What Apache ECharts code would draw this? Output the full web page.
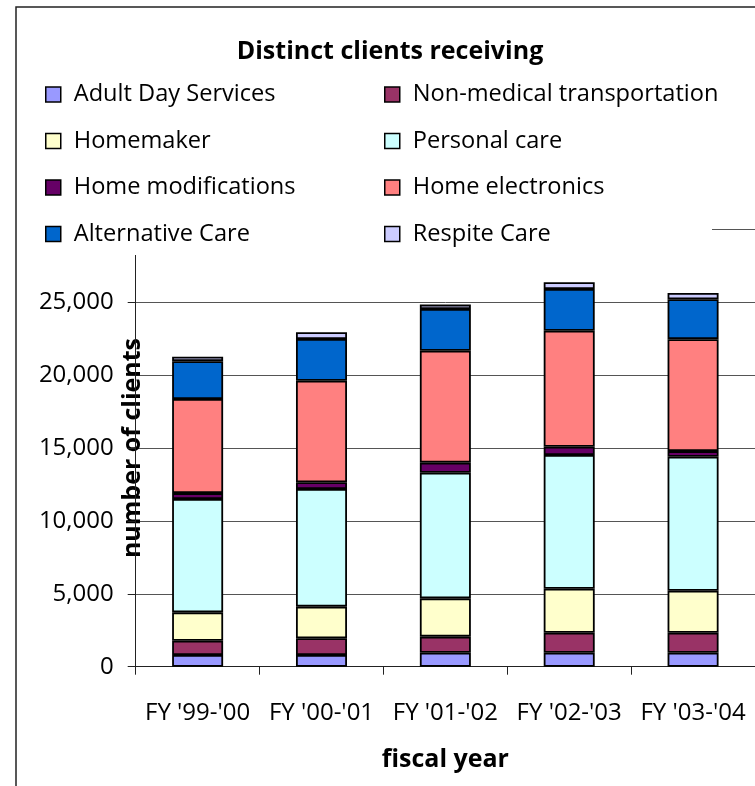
<!DOCTYPE html>
<html>
<head>
<meta charset="utf-8">
<script src="https://cdn.jsdelivr.net/npm/echarts@6/dist/echarts.min.js"></script>
<style>
html,body{margin:0;padding:0;background:#fff;}
#chart{width:755px;height:786px;}
</style>
</head>
<body>
<div id="chart"></div>
<script>
var categories = ["FY '99-'00", "FY '00-'01", "FY '01-'02", "FY '02-'03", "FY '03-'04"];
var adultDayServices   = [800, 800, 960, 960, 960];
var nonMedicalTransp   = [980, 1150, 1100, 1370, 1370];
var homemaker          = [1950, 2170, 2630, 3020, 2880];
var personalCare       = [7770, 8070, 8620, 9170, 9190];
var homeModifications  = [410, 460, 690, 570, 390];
var homeElectronics    = [6450, 6970, 7680, 7960, 7680];
var alternativeCare    = [2600, 2860, 2860, 2860, 2740];
var respiteCare        = [300, 460, 300, 460, 430];
var yTicks = [0, 5000, 10000, 15000, 20000, 25000, 30000];

var seriesDefs = [
  {name: 'Adult Day Services', data: adultDayServices, color: '#9999FF'},
  {name: 'Non-medical transportation', data: nonMedicalTransp, color: '#993366'},
  {name: 'Homemaker', data: homemaker, color: '#FFFFCC'},
  {name: 'Personal care', data: personalCare, color: '#CCFFFF'},
  {name: 'Home modifications', data: homeModifications, color: '#660066'},
  {name: 'Home electronics', data: homeElectronics, color: '#FF8080'},
  {name: 'Alternative Care', data: alternativeCare, color: '#0066CC'},
  {name: 'Respite Care', data: respiteCare, color: '#CCCCFF'}
];

var FONT = 'Open Sans';
var chart = echarts.init(document.getElementById('chart'), null, {renderer: 'canvas'});

var legendCommon = {
  orient: 'vertical',
  padding: 0,
  itemWidth: 15,
  itemHeight: 15,
  itemGap: 20.5,
  icon: 'rect',
  z: 60,
  itemStyle: {borderColor: '#000', borderWidth: 1.5},
  textStyle: {fontFamily: FONT, fontSize: 23.6, color: '#000', lineHeight: 26, padding: [0, 0, 0, 8]}
};

var option = {
  backgroundColor: '#fff',
  animation: false,
  title: {
    text: 'Distinct clients receiving',
    left: 390,
    textAlign: 'center',
    top: 37,
    padding: 0,
    z: 60,
    textStyle: {fontFamily: FONT, fontSize: 25, fontWeight: 'bold', color: '#000', lineHeight: 30}
  },
  legend: [
    Object.assign({}, legendCommon, {
      left: 45, top: 81.5,
      data: ['Adult Day Services', 'Homemaker', 'Home modifications', 'Alternative Care']
    }),
    Object.assign({}, legendCommon, {
      left: 384, top: 81.5,
      data: ['Non-medical transportation', 'Personal care', 'Home electronics', 'Respite Care']
    })
  ],
  graphic: [
    {type: 'rect', z: 50, shape: {x: 20, y: 10, width: 692, height: 245}, style: {fill: '#fff'}, silent: true},
    {type: 'polyline', z: 70, shape: {points: [[16, 800], [16, 7], [800, 7]]}, style: {stroke: '#222', lineWidth: 1.5, fill: null}, silent: true}
  ],
  grid: {left: 135.7, top: 229.4, width: 624, height: 437.3, containLabel: false},
  xAxis: {
    type: 'category',
    data: categories,
    name: 'fiscal year',
    nameLocation: 'middle',
    nameGap: 81,
    nameMoveOverlap: false,
    nameTextStyle: {fontFamily: FONT, fontSize: 25, fontWeight: 'bold', color: '#000'},
    axisLine: {lineStyle: {color: '#222', width: 1}},
    axisTick: {show: true, length: 8, interval: 0, lineStyle: {color: '#222'}},
    axisLabel: {fontFamily: FONT, fontSize: 24, color: '#000', margin: 34, interval: 0, hideOverlap: false}
  },
  yAxis: {
    type: 'value',
    min: yTicks[0],
    max: yTicks[yTicks.length - 1],
    interval: yTicks[1] - yTicks[0],
    name: 'number of clients',
    nameLocation: 'middle',
    nameGap: -10,
    nameMoveOverlap: false,
    nameRotate: 90,
    nameTextStyle: {fontFamily: FONT, fontSize: 25, fontWeight: 'bold', color: '#000'},
    axisLine: {show: true, lineStyle: {color: '#222', width: 1}},
    axisTick: {show: true, length: 8, lineStyle: {color: '#222'}},
    axisLabel: {
      fontFamily: FONT, fontSize: 24, color: '#000', margin: 22,
      formatter: function (v) { return v.toLocaleString('en-US'); }
    },
    splitLine: {show: true, lineStyle: {color: '#555', width: 1}}
  },
  series: seriesDefs.map(function (s) {
    return {
      name: s.name,
      type: 'bar',
      stack: 'total',
      data: s.data,
      barWidth: 51,
      itemStyle: {color: s.color, borderColor: '#000', borderWidth: 1.8}
    };
  })
};
chart.setOption(option);
</script>
</body>
</html>
